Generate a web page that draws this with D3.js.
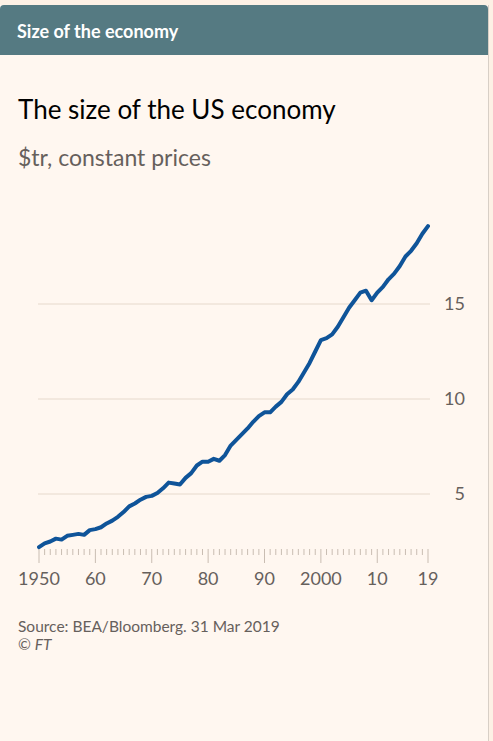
<!DOCTYPE html>
<html><head><meta charset="utf-8">
<script src="https://cdn.jsdelivr.net/npm/d3@7"></script>
<style>
body{margin:0;background:#fdf1e5;font-family:Lato,"Open Sans",sans-serif;}
</style></head><body>
<svg id="c" width="493" height="741"></svg>
<script>
const years = d3.range(1950, 2020);
const gdp = [2.2,2.4,2.5,2.65,2.6,2.8,2.85,2.9,2.85,3.1,3.15,3.25,3.45,3.6,3.8,4.05,4.35,4.5,4.7,4.85,
4.9,5.05,5.3,5.6,5.55,5.5,5.85,6.1,6.5,6.7,6.7,6.85,6.75,7.05,7.55,7.85,8.15,8.45,8.8,9.1,
9.3,9.3,9.6,9.85,10.25,10.5,10.9,11.4,11.9,12.5,13.1,13.2,13.4,13.8,14.3,14.8,15.2,15.6,15.7,15.2,
15.6,15.9,16.3,16.6,17.0,17.5,17.8,18.2,18.7,19.1];
const yTicks = [5, 10, 15];
const xMajor = [1950,1960,1970,1980,1990,2000,2010,2019];
const xLabels = ["1950","60","70","80","90","2000","10","19"];

const svg = d3.select("#c");
svg.append("rect").attr("x",0).attr("y",5).attr("width",488).attr("height",736).attr("fill","#fff7f0");
svg.append("line").attr("x1",488.5).attr("x2",488.5).attr("y1",5).attr("y2",741).attr("stroke","#d8cfc6");
svg.append("path").attr("d","M0,55V9a4,4 0 0 1 4,-4H484a4,4 0 0 1 4,4V55Z").attr("fill","#557a82");
svg.append("text").attr("x",17).attr("y",38).attr("fill","#fff").attr("font-size",18).attr("font-weight","bold").text("Size of the economy");
svg.append("text").attr("x",18).attr("y",119).attr("fill","#000").attr("font-size",26).text("The size of the US economy");
svg.append("text").attr("x",18).attr("y",166).attr("fill","#66605c").attr("font-size",23).text("$tr, constant prices");

const x = d3.scaleLinear().domain([1950, 2019]).range([39, 428]);
const y = d3.scaleLinear().domain([0, 15]).range([589, 304]);

svg.append("g").selectAll("line").data(yTicks).join("line")
  .attr("x1",38).attr("x2",430).attr("y1",d=>y(d)).attr("y2",d=>y(d)).attr("stroke","#e6d9cc");
svg.append("g").selectAll("text").data(yTicks).join("text")
  .attr("x",465).attr("y",d=>y(d)+6).attr("text-anchor","end").attr("fill","#66605c").attr("font-size",18).text(d=>d);

svg.append("g").selectAll("line").data(years).join("line")
  .attr("x1",d=>x(d)).attr("x2",d=>x(d)).attr("y1",549)
  .attr("y2",d=>xMajor.includes(d)?563:555).attr("stroke","#c9bdb2");
svg.append("g").selectAll("text").data(xMajor).join("text")
  .attr("x",d=>x(d)).attr("y",585).attr("text-anchor","middle").attr("fill","#66605c").attr("font-size",18)
  .text((d,i)=>xLabels[i]);

svg.append("path").datum(gdp).attr("fill","none").attr("stroke","#0f5499").attr("stroke-width",4)
  .attr("stroke-linejoin","round").attr("stroke-linecap","round")
  .attr("d", d3.line().x((d,i)=>x(years[i])).y(d=>y(d)));

svg.append("text").attr("x",18).attr("y",632).attr("fill","#66605c").attr("font-size",15.5).text("Source: BEA/Bloomberg. 31 Mar 2019");
svg.append("text").attr("x",18).attr("y",650).attr("fill","#66605c").attr("font-size",15.5).text("© ").append("tspan").attr("font-style","italic").text("FT");
</script></body></html>
